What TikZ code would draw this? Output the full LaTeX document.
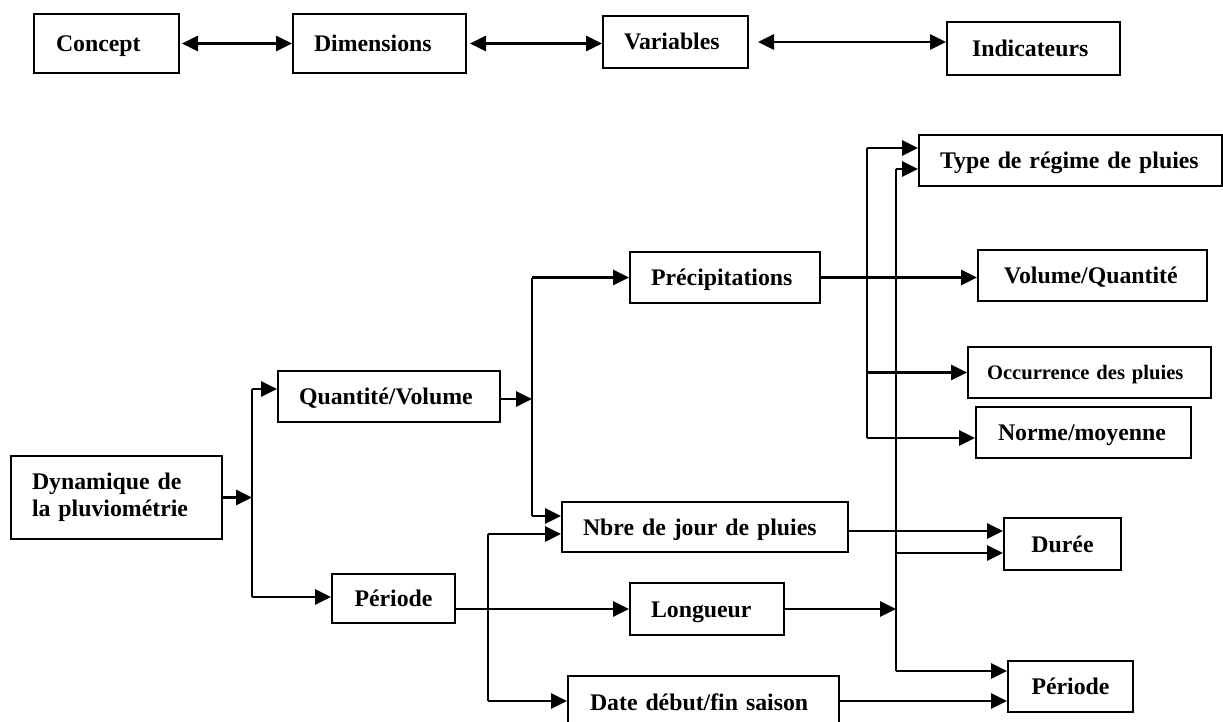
\documentclass[tikz,border=0pt]{standalone}
\usepackage{fontspec}
\setmainfont{Liberation Serif}
\usetikzlibrary{arrows.meta,calc}
\begin{document}
\begin{tikzpicture}[x=1pt,y=-1pt,
  bx/.style={draw, line width=2pt, font=\fontsize{23.8}{26.5}\selectfont\bfseries, align=left, inner ysep=0pt},
  bx1/.style={bx, text height=16pt, text depth=0pt},
  conn/.style={line width=2.8pt},
  arr/.style={conn, -{Triangle[length=16pt,width=15pt]}},
  darr/.style={conn, {Triangle[length=16pt,width=15pt]}-{Triangle[length=16pt,width=15pt]}}]
\useasboundingbox (0,0) rectangle (1223,722);
\clip (0,0) rectangle (1223,722);

% top row
\node[bx1, minimum height=59pt, inner xsep=22pt, text width=101pt] (concept) at (106.5,43.5) {Concept};
\node[bx1, minimum height=59pt, inner xsep=21pt, text width=131pt] (dims) at (379.5,43.5) {Dimensions};
\node[bx1, minimum height=52pt, inner xsep=21pt, text width=103pt] (vars) at (675.5,42) {Variables};
\node[bx1, minimum height=53pt, inner xsep=25pt, text width=123pt] (indic) at (1033.5,48.5) {Indicateurs};

\draw[darr, shorten <=2pt] (concept.east) -- (dims.west);
\draw[darr, shorten <=3pt] (dims.east) -- (dims.east -| vars.west);
\draw[darr, shorten <=9pt] (vars.east) -- (vars.east -| indic.west);

% boxes
\node[bx, minimum height=83pt, inner xsep=21pt, text width=169pt] (dyn) at (116.5,497.5) {Dynamique de\\la pluviométrie};
\node[bx1, minimum height=51pt, inner xsep=21pt, text width=180pt] (qv) at (389,396.5) {Quantité/Volume};
\node[bx1, minimum height=49pt, inner xsep=21.5pt, text width=80pt, align=center] (per1) at (393.5,598.5) {Période};
\node[bx1, minimum height=51pt, inner xsep=21pt, text width=148pt] (prec) at (725,277.5) {Précipitations};
\node[bx1, minimum height=50pt, inner xsep=21pt, text width=244pt] (nbre) at (705,527) {Nbre de jour de pluies};
\node[bx1, minimum height=52pt, inner xsep=21pt, text width=112pt] (long) at (707,609) {Longueur};
\node[bx1, minimum height=52pt, inner xsep=22pt, text width=227pt] (date) at (703.5,702) {Date début/fin saison};
\node[bx1, minimum height=51pt, inner xsep=21pt, text width=261pt] (type) at (1070.5,160.5) {Type de régime de pluies};
\node[bx1, minimum height=51pt, inner xsep=26pt, text width=177pt] (volq) at (1092.5,275.5) {Volume/Quantité};
\node[bx, font=\fontsize{20.6}{23}\selectfont\bfseries, text height=14pt, text depth=0pt, minimum height=51pt, inner xsep=19pt, text width=205pt] (occ) at (1089.5,372.5) {Occurrence des pluies};
\node[bx1, minimum height=51pt, inner xsep=22pt, text width=171pt] (norme) at (1083.5,432.5) {Norme/moyenne};
\node[bx1, minimum height=52pt, inner xsep=23.5pt, text width=70pt, align=center] (duree) at (1062.5,544) {Durée};
\node[bx1, minimum height=51pt, inner xsep=22.5pt, text width=80pt, align=center] (per2) at (1070.5,686.5) {Période};

% junction coordinates
\coordinate (fT) at (252,389);
\coordinate (fB) at (252,597);
\coordinate (eT) at (532,277.5);
\coordinate (eB) at (532,516);
\coordinate (dT) at (488,534);
\coordinate (dB) at (488,701);
\coordinate (aT) at (867,148);
\coordinate (aB) at (867,438);
\coordinate (bT) at (896,169);
\coordinate (bB) at (896,671);

% Dynamique -> dimensions
\draw[arr] (dyn.east) -- (dyn.east -| fT);
\draw[conn] (fT) -- (fB);
\draw[arr] (fT) -- (fT -| qv.west);
\draw[arr] (fB) -- (fB -| per1.west);

% Quantite/Volume -> variables
\draw[arr] ($(qv.east)+(0,2.5)$) -- ($(qv.east -| eT)+(0,2.5)$);
\draw[conn] (eT) -- (eB);
\draw[arr] (eT) -- (eT -| prec.west);
\draw[arr] (eB) -- (eB -| nbre.west);

% Periode -> variables
\draw[arr] (per1.east |- long.west) -- (long.west);
\draw[conn] (dT) -- (dB);
\draw[arr] (dT) -- (dT -| nbre.west);
\draw[arr] (dB) -- (dB -| date.west);

% Precipitations -> indicateurs
\draw[arr] (prec.east) -- (prec.east -| volq.west);
\draw[conn] (aT) -- (aB);
\draw[arr] (aT) -- (aT -| type.west);
\draw[arr] (aT |- occ.west) -- (occ.west);
\draw[arr] (aB) -- (aB -| norme.west);

% Longueur -> indicateurs
\draw[arr] (long.east) -- (long.east -| bT);
\draw[conn] (bT) -- (bB);
\draw[arr] (bT) -- (bT -| type.west);
\draw[arr] (bT |- 0,553) -- (duree.west |- 0,553);
\draw[arr] (bB) -- (bB -| per2.west);

% Nbre -> Duree, Date -> Periode
\draw[arr] ($(nbre.east)+(0,4)$) -- ($(nbre.east -| duree.west)+(0,4)$);
\draw[arr] (date.east |- 0,701) -- (per2.west |- 0,701);
\end{tikzpicture}
\end{document}
